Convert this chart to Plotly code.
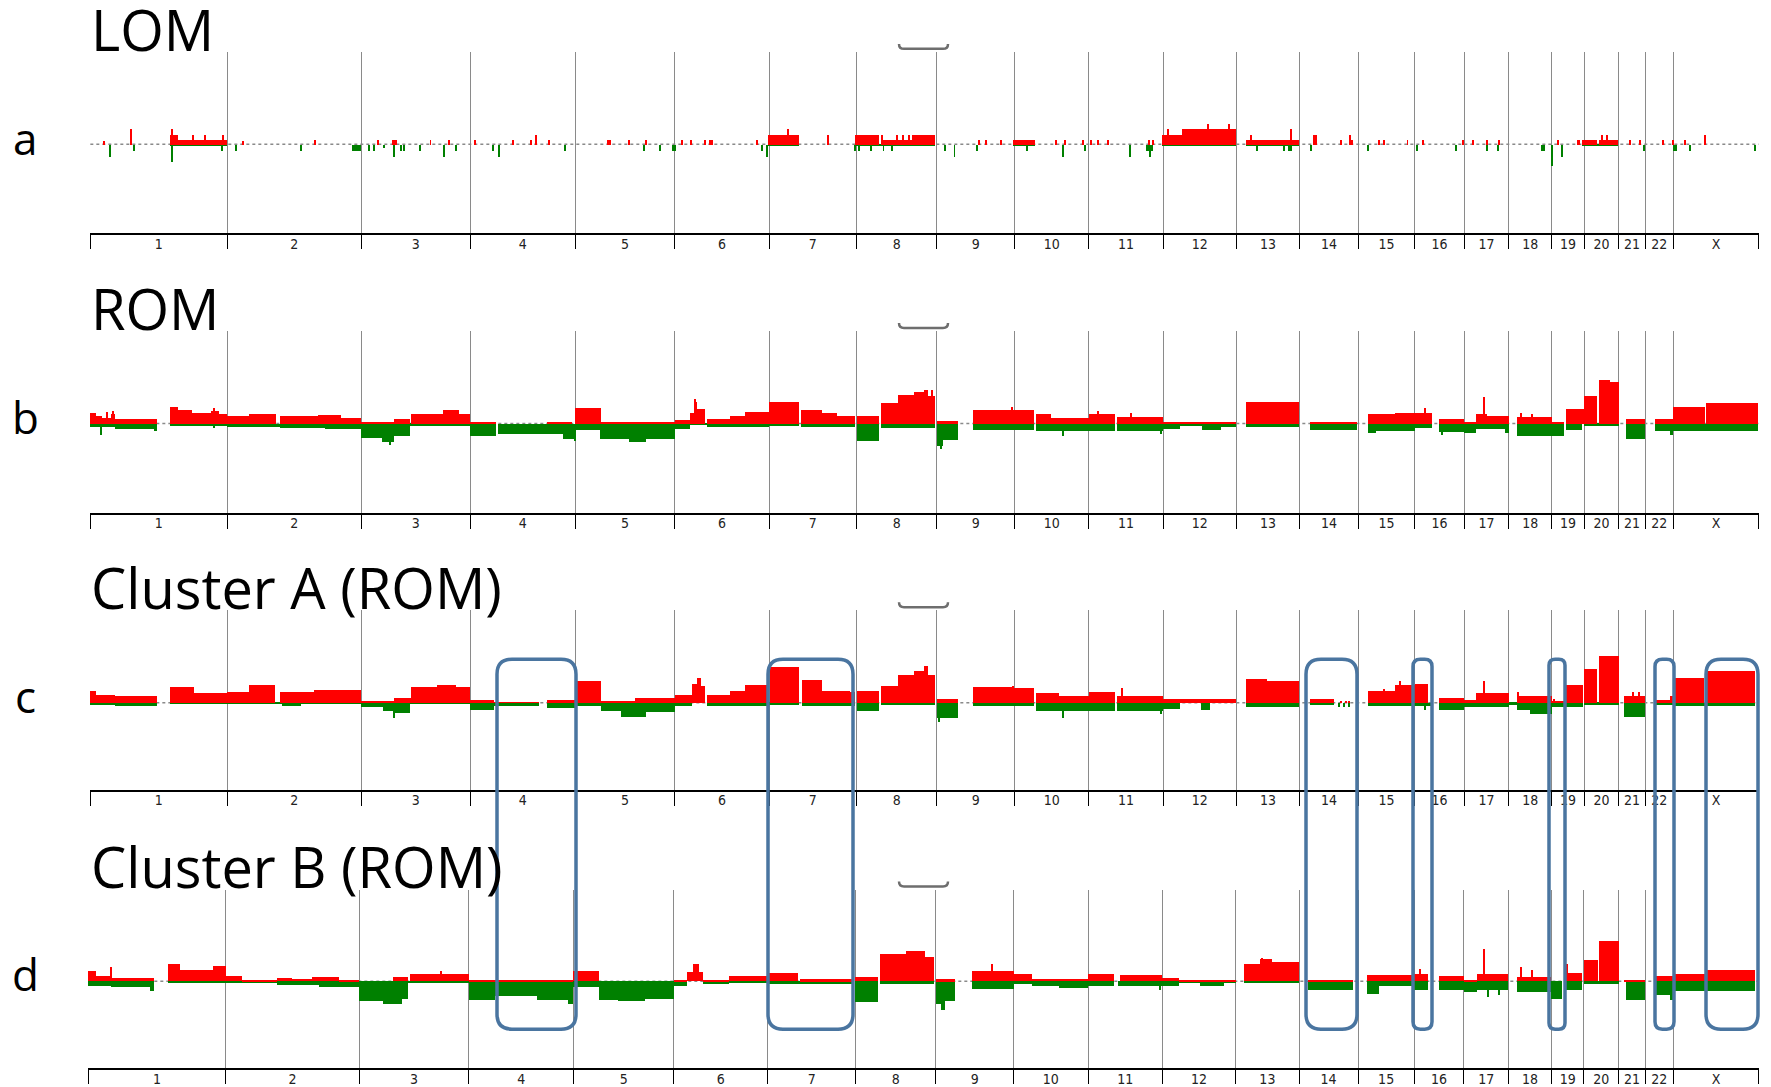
import plotly.graph_objects as go

# ---------------- data ----------------
CHROMS = ["1", "2", "3", "4", "5", "6", "7", "8", "9", "10", "11", "12",
          "13", "14", "15", "16", "17", "18", "19", "20", "21", "22", "X"]
CHROM_LEN_MB = [249, 243, 198, 191, 181, 171, 159, 146, 141, 135, 135, 133,
                115, 107, 102, 90, 81, 78, 59, 63, 48, 51, 155]

PANEL_TITLES = ["LOM", "ROM", "Cluster A (ROM)", "Cluster B (ROM)"]
PANEL_LETTERS = ["a", "b", "c", "d"]

# segments: (start Mb, end Mb, frequency %) on cumulative genome coordinate
LOM_GAIN = [(144, 160, 10.8), (160, 249, 5), (1231, 1288, 11), (1390, 1433, 11), (1437, 1493, 5),
            (1493, 1535, 11), (1677, 1716, 5), (1947, 1983, 11), (1983, 2082, 17), (2100, 2196, 5),
            (2710, 2738, 5), (2741, 2775, 5), (2931, 2935, 11)]
LOM_GAIN_SPIKES = [(25, 4.3), (73, 17), (149, 17), (186, 10.8), (208, 10.8), (241, 10.8), (277, 4.5),
                   (408, 5), (523, 5), (549, 5), (553, 5), (556, 5), (618, 5), (651, 5), (698, 5),
                   (768, 5), (800, 5), (810, 11), (834, 5), (940, 5), (945, 5), (978, 5), (1010, 5),
                   (1075, 5), (1091, 5), (1116, 5), (1126, 5), (1129, 5), (1212, 5), (1268, 17),
                   (1341, 11), (1439, 11), (1465, 11), (1477, 11), (1488, 11), (1615, 5), (1627, 5),
                   (1654, 5), (1755, 5), (1770, 5), (1804, 5), (1818, 5), (1830, 5), (1848, 5),
                   (1923, 5), (1930, 5), (1958, 17), (2031, 22), (2068, 22), (2109, 11), (2181, 17),
                   (2224, 11), (2227, 11), (2272, 5), (2289, 11), (2293, 5), (2342, 5), (2351, 5),
                   (2393, 5), (2421, 5), (2493, 5), (2512, 5), (2538, 5), (2559, 5), (2666, 5),
                   (2702, 5), (2705, 5), (2746, 11), (2755, 11), (2797, 5), (2816, 5), (2857, 5),
                   (2876, 5), (2898, 5)]
LOM_LOSS = [(144, 249, 1.5), (476, 492, 6.5), (1231, 1288, 1.5), (1390, 1535, 1.5), (1677, 1716, 1.5),
            (1918, 1930, 6.5), (1947, 2082, 1.5), (2100, 2196, 1.5), (2636, 2643, 6.5),
            (2710, 2775, 1.5), (2875, 2883, 6.5)]
LOM_LOSS_SPIKES = [(35, 13), (80, 6.5), (149, 19), (240, 6.5), (265, 6.5), (382, 6.5), (507, 6.5),
                   (516, 6.5), (534, 4), (552, 13), (565, 6.5), (570, 6.5), (599, 6.5), (643, 13),
                   (664, 6.5), (732, 6.5), (743, 13), (862, 6.5), (1006, 6.5), (1035, 6.5),
                   (1058, 6.5), (1062, 6.5), (1220, 6.5), (1230, 13), (1389, 6.5), (1397, 6.5),
                   (1418, 6.5), (1441, 6.5), (1456, 6.5), (1553, 6.5), (1570, 13), (1611, 6.5),
                   (1702, 6.5), (1768, 13), (1807, 6.5), (1889, 13), (1925, 13), (2120, 6.5),
                   (2168, 6.5), (2178, 6.5), (2181, 6.5), (2217, 6.5), (2322, 6.5), (2411, 6.5),
                   (2482, 6.5), (2537, 6.5), (2558, 6.5), (2655, 23), (2673, 13), (2823, 6.5),
                   (2907, 6.5), (3025, 6.5)]

ROM_GAIN = [(0, 10, 12), (10, 21, 8.6), (21, 38, 5.7), (38, 45, 10), (45, 121, 5), (144, 160, 18),
            (160, 184, 15), (184, 219, 11.5), (219, 233, 14), (233, 249, 10),
            (249, 288, 8.6), (288, 337, 11), (344, 413, 8), (413, 455, 9.3), (455, 492, 5.7),
            (492, 552, 1), (552, 581, 5), (583, 640, 11), (640, 670, 15), (670, 690, 11),
            (690, 737, 2), (830, 875, 2), (880, 928, 17), (928, 1062, 2),
            (1062, 1089, 4.3), (1089, 1096, 12), (1096, 1103, 23), (1103, 1117, 15.8),
            (1121, 1162, 5), (1162, 1190, 8.6), (1190, 1233, 13),
            (1233, 1287, 23), (1292, 1329, 15), (1329, 1357, 11.5), (1357, 1390, 7.9),
            (1392, 1433, 7.9), (1437, 1468, 22), (1468, 1496, 30.8), (1496, 1515, 33.7),
            (1515, 1522, 36.6), (1522, 1535, 29.4), (1538, 1576, 3.2), (1604, 1679, 14.7),
            (1679, 1715, 14.7), (1718, 1746, 10), (1746, 1814, 5.7), (1814, 1861, 10),
            (1866, 1949, 6.8), (1949, 2082, 2), (2100, 2196, 23.7), (2215, 2301, 2),
            (2322, 2370, 10), (2370, 2406, 12), (2406, 2438, 12), (2450, 2496, 5),
            (2496, 2517, 2), (2518, 2530, 10), (2534, 2537, 10), (2537, 2577, 7.9),
            (2592, 2655, 6.8), (2655, 2678, 1), (2681, 2714, 15.8), (2714, 2738, 30),
            (2741, 2760, 47), (2760, 2777, 45), (2790, 2825, 5), (2842, 2876, 5),
            (2876, 2934, 17.6), (2936, 3030, 22)]
ROM_GAIN_SPIKES = [(30, 13), (41, 14), (225, 16.5), (1099, 27), (1530, 36.6), (1674, 18),
                   (1830, 14), (1890, 12), (2425, 17), (2532, 29), (2600, 12), (2620, 11), (2362, 11)]
ROM_LOSS = [(0, 45, 4), (45, 115, 5.7), (115, 121, 7.5), (144, 249, 2),
            (249, 344, 3), (344, 427, 4.7), (427, 492, 5.7),
            (492, 530, 15.8), (530, 552, 20), (552, 581, 12.9), (581, 690, 2),
            (690, 737, 13.6), (740, 858, 11), (858, 880, 16.5),
            (880, 926, 7), (926, 978, 16.5), (978, 1010, 19.4), (1010, 1062, 16),
            (1062, 1089, 5.7), (1089, 1121, 1.4), (1121, 1162, 4), (1162, 1233, 3),
            (1233, 1287, 2), (1292, 1390, 4), (1392, 1433, 18.3), (1437, 1535, 4.7),
            (1538, 1550, 24), (1550, 1576, 18), (1604, 1679, 6.5), (1679, 1715, 6.5),
            (1718, 1814, 7.5), (1814, 1861, 7.5), (1866, 1949, 7.5),
            (1949, 1979, 5.7), (1979, 2020, 2), (2020, 2055, 6.5), (2055, 2082, 3),
            (2100, 2196, 4), (2215, 2301, 6.5), (2322, 2335, 10), (2335, 2406, 7.5),
            (2406, 2438, 5), (2450, 2496, 9.3), (2496, 2517, 10), (2518, 2570, 5.7),
            (2570, 2577, 10), (2592, 2655, 12.9), (2655, 2678, 12.9), (2681, 2710, 6.5),
            (2714, 2777, 2), (2790, 2825, 16.5), (2842, 2870, 7.5), (2870, 2876, 12),
            (2876, 3030, 7.5)]
ROM_LOSS_SPIKES = [(20, 12), (225, 5), (545, 23), (880, 19), (1545, 27), (1767, 13),
                   (1945, 11), (2455, 12)]

CLA_GAIN = [(0, 10, 13), (10, 45, 8.6), (45, 121, 6.8), (144, 188, 16.5), (188, 249, 10),
            (249, 288, 12), (288, 336, 19.4), (344, 406, 11.5), (406, 492, 14),
            (492, 552, 2), (552, 583, 5), (583, 630, 16.5), (630, 665, 19), (665, 690, 16.5),
            (690, 733, 3.2), (733, 816, 0.8), (830, 880, 3.2),
            (880, 928, 23.7), (928, 989, 2), (989, 1062, 5),
            (1062, 1093, 8.6), (1093, 1103, 20), (1103, 1110, 27), (1110, 1117, 18),
            (1121, 1162, 8.6), (1162, 1190, 13), (1190, 1233, 19.4),
            (1234, 1287, 39), (1293, 1329, 24.7), (1329, 1381, 13), (1381, 1390, 12),
            (1392, 1433, 13), (1437, 1468, 17.6), (1468, 1496, 29.4), (1496, 1514, 33.7),
            (1514, 1522, 40), (1522, 1535, 30), (1538, 1576, 4.3), (1604, 1679, 16.5),
            (1679, 1715, 15.8), (1718, 1760, 10), (1760, 1814, 6.8),
            (1814, 1861, 12), (1866, 1949, 6.8), (1949, 2082, 4.3),
            (2099, 2137, 25.8), (2137, 2196, 23), (2215, 2260, 4.3), (2272, 2274, 2),
            (2281, 2283, 2), (2286, 2288, 2), (2322, 2370, 13), (2370, 2406, 19.4),
            (2406, 2431, 20), (2450, 2496, 5), (2496, 2517, 3.2), (2518, 2577, 10),
            (2592, 2655, 6.8), (2655, 2681, 2), (2681, 2711, 19.4),
            (2714, 2738, 36.6), (2741, 2777, 50), (2787, 2825, 6.8),
            (2845, 2869, 3.2), (2869, 2876, 7), (2876, 2931, 27), (2934, 3025, 33.7)]
CLA_GAIN_SPIKES = [(1105, 27), (1519, 40), (1676, 18), (1875, 15.8), (2532, 23), (2594, 12),
                   (2803, 12), (2813, 12), (2660, 4), (2350, 15), (2380, 23)]
CLA_LOSS = [(0, 45, 2), (45, 121, 4), (144, 249, 1.4),
            (249, 348, 1), (348, 383, 4), (383, 492, 1),
            (492, 532, 5), (532, 552, 8.6), (552, 581, 11), (581, 690, 1),
            (690, 733, 7.5), (733, 816, 4), (830, 880, 5.7),
            (880, 928, 4), (928, 964, 9.3), (964, 1010, 15.8), (1010, 1062, 10),
            (1062, 1093, 4), (1121, 1233, 4), (1233, 1287, 2), (1293, 1390, 4),
            (1392, 1433, 9.3), (1437, 1535, 2), (1538, 1576, 16.5), (1604, 1679, 3),
            (1679, 1715, 3), (1718, 1814, 8.6), (1814, 1861, 9.3), (1866, 1949, 8.6),
            (1949, 1979, 6.5), (2017, 2034, 7.5), (2099, 2196, 5),
            (2215, 2260, 2), (2268, 2270, 5), (2277, 2279, 5), (2285, 2287, 5),
            (2322, 2406, 3), (2406, 2438, 4), (2450, 2496, 7.5), (2496, 2577, 5),
            (2577, 2592, 2), (2592, 2616, 7.5), (2616, 2655, 12),
            (2655, 2678, 5), (2681, 2711, 5), (2714, 2777, 2), (2787, 2825, 15.8),
            (2845, 2876, 2), (2876, 3025, 4)]
CLA_LOSS_SPIKES = [(552, 16), (1768, 16), (1542, 21), (1945, 12), (2425, 8)]

CLB_GAIN = [(0, 14, 10.8), (14, 42, 5), (42, 119, 3.6), (144, 167, 18), (167, 226, 12.2),
            (226, 249, 16), (249, 279, 5), (279, 342, 1.4), (342, 370, 3.6), (370, 405, 2.5),
            (405, 455, 4.3), (455, 492, 1), (552, 580, 4.3), (583, 690, 7.9), (690, 880, 0.6),
            (880, 926, 10.8), (1062, 1087, 1.4), (1087, 1097, 10), (1097, 1108, 17.9),
            (1108, 1116, 10), (1116, 1163, 1), (1163, 1233, 5), (1233, 1287, 9),
            (1292, 1390, 2), (1392, 1433, 4.3), (1436, 1483, 29.4), (1483, 1518, 32),
            (1518, 1535, 25.8), (1538, 1573, 2), (1604, 1679, 10.8), (1679, 1712, 7.9),
            (1712, 1814, 2.5), (1814, 1862, 7.2), (1872, 1949, 6.1), (1949, 1980, 3.6),
            (1980, 2082, 1.4), (2097, 2126, 18.6), (2126, 2147, 24), (2147, 2196, 20.4),
            (2214, 2295, 0.5), (2321, 2403, 6.1), (2406, 2431, 7.9), (2451, 2496, 5),
            (2496, 2520, 1.4), (2520, 2577, 7.9), (2592, 2655, 4.3), (2681, 2710, 8.6),
            (2714, 2739, 23), (2742, 2777, 42.7), (2787, 2825, 1.4), (2845, 2876, 5),
            (2876, 2934, 7.9), (2937, 3025, 11.5)]
CLB_GAIN_SPIKES = [(42, 15), (640, 11), (1100, 17.9), (1640, 18.6), (2417, 13), (2533, 34.8),
                   (2600, 15), (2620, 12), (2684, 18.6), (2130, 25)]
CLB_LOSS = [(0, 42, 5.7), (42, 112, 6.5), (112, 119, 10.8), (144, 249, 2),
            (249, 342, 2), (342, 419, 4.7), (419, 492, 6.5),
            (492, 535, 21.5), (535, 570, 24.4), (570, 580, 19), (580, 690, 2),
            (690, 738, 20.8), (738, 815, 16.5), (815, 870, 20), (870, 880, 24.4),
            (880, 926, 6.5), (926, 962, 20), (962, 1010, 21.5), (1010, 1062, 19),
            (1062, 1087, 5.7), (1116, 1163, 2.9), (1163, 1233, 2), (1233, 1390, 2.9),
            (1392, 1433, 22.6), (1436, 1535, 2.9), (1538, 1548, 24.4), (1548, 1555, 31),
            (1555, 1573, 22), (1604, 1679, 8.2), (1679, 1712, 2.9), (1712, 1761, 5.7),
            (1761, 1814, 7.2), (1814, 1862, 5.7), (1868, 1949, 5.7), (1949, 1979, 5.7),
            (1979, 2017, 1.4), (2017, 2061, 5.7), (2061, 2082, 2), (2097, 2196, 2),
            (2214, 2295, 10), (2321, 2342, 13.6), (2342, 2403, 5.7), (2406, 2431, 9.3),
            (2451, 2496, 10), (2496, 2520, 11.8), (2520, 2577, 10), (2592, 2655, 11.8),
            (2655, 2674, 19), (2681, 2710, 10), (2714, 2777, 2.9), (2790, 2825, 20),
            (2845, 2870, 15.4), (2870, 2876, 20), (2876, 3025, 10.8)]
CLB_LOSS_SPIKES = [(1550, 31), (2540, 17), (2560, 15), (1945, 9.5)]

PANEL_DATA = [
    (LOM_GAIN, LOM_GAIN_SPIKES, LOM_LOSS, LOM_LOSS_SPIKES),
    (ROM_GAIN, ROM_GAIN_SPIKES, ROM_LOSS, ROM_LOSS_SPIKES),
    (CLA_GAIN, CLA_GAIN_SPIKES, CLA_LOSS, CLA_LOSS_SPIKES),
    (CLB_GAIN, CLB_GAIN_SPIKES, CLB_LOSS, CLB_LOSS_SPIKES),
]

# ---------------- layout geometry (pixels) ----------------
W, H = 1771, 1087
RIGHT = 1759
PX_PER_PCT = 0.93
GEOM = [  # top, baseline, bottom(axis line), left
    (51.7, 144.7, 234.0, 90),
    (331.7, 424.7, 514.0, 90),
    (611.7, 704.7, 791.7, 90),
    (892.7, 984.0, 1070.7, 88),
]
TITLE_BASELINE = [50, 330, 610, 890]
LETTER_MID = [138, 418, 698, 977]
BRACKET_Y = [49, 329, 609, 889]
TITLE_FS = 56

RED = "#ff0000"
GREEN = "#008000"
BOX_BLUE = "#4a75a0"

starts = []
acc = 0
for L in CHROM_LEN_MB:
    starts.append(acc)
    acc += L
GENOME_END = acc
boundaries = starts + [GENOME_END]
centers = [s + L / 2 for s, L in zip(starts, CHROM_LEN_MB)]


def px_x(p):
    return p / W


def px_y(p):
    return 1 - p / H


fig = go.Figure()
SPIKE_W = 1.8

for i, (gain, gspk, loss, lspk) in enumerate(PANEL_DATA):
    n = i + 1
    xa = "x" if n == 1 else f"x{n}"
    ya = "y" if n == 1 else f"y{n}"
    segs_g = gain + [(p - SPIKE_W / 2, p + SPIKE_W / 2, v) for p, v in gspk]
    segs_l = loss + [(p - SPIKE_W / 2, p + SPIKE_W / 2, v) for p, v in lspk]
    for segs, sign, col in ((segs_l, -1, GREEN), (segs_g, 1, RED)):
        fig.add_trace(go.Bar(
            x=[(a + b) / 2 for a, b, v in segs],
            width=[(b - a) for a, b, v in segs],
            y=[sign * v for a, b, v in segs],
            base=0,
            marker=dict(color=col, line=dict(width=0)),
            xaxis=xa, yaxis=ya, showlegend=False, hoverinfo="skip",
        ))

layout = dict(
    width=W, height=H, margin=dict(l=0, r=0, t=0, b=0),
    paper_bgcolor="white", plot_bgcolor="white",
    barmode="overlay", bargap=0, showlegend=False, hovermode=False,
    font=dict(family="Open Sans", color="black"),
)

shapes = []
annotations = []
for i, (top, base, bot, left) in enumerate(GEOM):
    n = i + 1
    sfx = "" if n == 1 else str(n)
    ymax = (base - top) / PX_PER_PCT
    ymin = -(bot - base) / PX_PER_PCT
    layout[f"xaxis{sfx}"] = dict(
        domain=[px_x(left), px_x(RIGHT)], range=[-0.6, GENOME_END + 0.6],
        anchor=f"y{sfx}", showline=True, linecolor="black", linewidth=2,
        tickmode="array", tickvals=centers, ticktext=CHROMS, ticks="",
        ticklabelstandoff=-3,
        tickfont=dict(family="Liberation Sans Narrow, DejaVu Sans Condensed", size=14, color="#222"),
        showgrid=False, zeroline=False, fixedrange=True,
        minor=dict(tickmode="array", tickvals=boundaries, ticks="outside", ticklen=14,
                   tickwidth=1.2, tickcolor="black", showgrid=True,
                   gridcolor="#8a8a8a", gridwidth=1),
    )
    layout[f"yaxis{sfx}"] = dict(
        domain=[px_y(bot), px_y(top)], range=[ymin, ymax], anchor=f"x{sfx}",
        visible=False, fixedrange=True,
    )
    # dotted zero line
    shapes.append(dict(type="line", xref=f"x{sfx}", yref=f"y{sfx}", x0=0, x1=GENOME_END,
                       y0=0, y1=0, layer="below",
                       line=dict(color="#8a8a8a", width=1.5, dash="dot")))
    # little bracket at top
    by = BRACKET_Y[i]
    bx0, bx1 = 899, 948
    path = (f"M {px_x(bx0)},{px_y(by - 5)} Q {px_x(bx0)},{px_y(by)} {px_x(bx0 + 5)},{px_y(by)} "
            f"L {px_x(bx1 - 5)},{px_y(by)} Q {px_x(bx1)},{px_y(by)} {px_x(bx1)},{px_y(by - 5)}")
    shapes.append(dict(type="path", xref="paper", yref="paper", path=path,
                       line=dict(color="#6e6e6e", width=2.5)))
    box_bottom = TITLE_BASELINE[i] + 19
    annotations.append(dict(text=PANEL_TITLES[i], xref="paper", yref="paper",
                            x=px_x(89), y=px_y(box_bottom),
                            xanchor="left", yanchor="bottom", valign="bottom",
                            height=64, showarrow=False,
                            font=dict(family="Open Sans", size=TITLE_FS, color="black")))
    annotations.append(dict(text=PANEL_LETTERS[i], xref="paper", yref="paper",
                            x=px_x(25), y=px_y(LETTER_MID[i]),
                            xanchor="center", yanchor="middle", showarrow=False,
                            font=dict(family="Open Sans", size=44, color="black")))

# highlight boxes (pixels) spanning panels c and d
BOXES = [(497, 576), (768, 853), (1306, 1357), (1413, 1432), (1549, 1565), (1655, 1674), (1706, 1758)]
BOX_TOP, BOX_BOT = 661, 1032


def rrect(x0, y0, x1, y1, r):
    X = px_x
    Y = px_y
    return (f"M {X(x0 + r)},{Y(y0)} L {X(x1 - r)},{Y(y0)} Q {X(x1)},{Y(y0)} {X(x1)},{Y(y0 + r)} "
            f"L {X(x1)},{Y(y1 - r)} Q {X(x1)},{Y(y1)} {X(x1 - r)},{Y(y1)} "
            f"L {X(x0 + r)},{Y(y1)} Q {X(x0)},{Y(y1)} {X(x0)},{Y(y1 - r)} "
            f"L {X(x0)},{Y(y0 + r)} Q {X(x0)},{Y(y0)} {X(x0 + r)},{Y(y0)} Z")


for x0, x1 in BOXES:
    r = min(15, (x1 - x0) / 2.6)
    shapes.append(dict(type="path", xref="paper", yref="paper",
                       path=rrect(x0, BOX_TOP, x1, BOX_BOT, r),
                       line=dict(color=BOX_BLUE, width=3.5), layer="above"))

layout["shapes"] = shapes
layout["annotations"] = annotations
fig.update_layout(**layout)
fig.write_html("out.html")
